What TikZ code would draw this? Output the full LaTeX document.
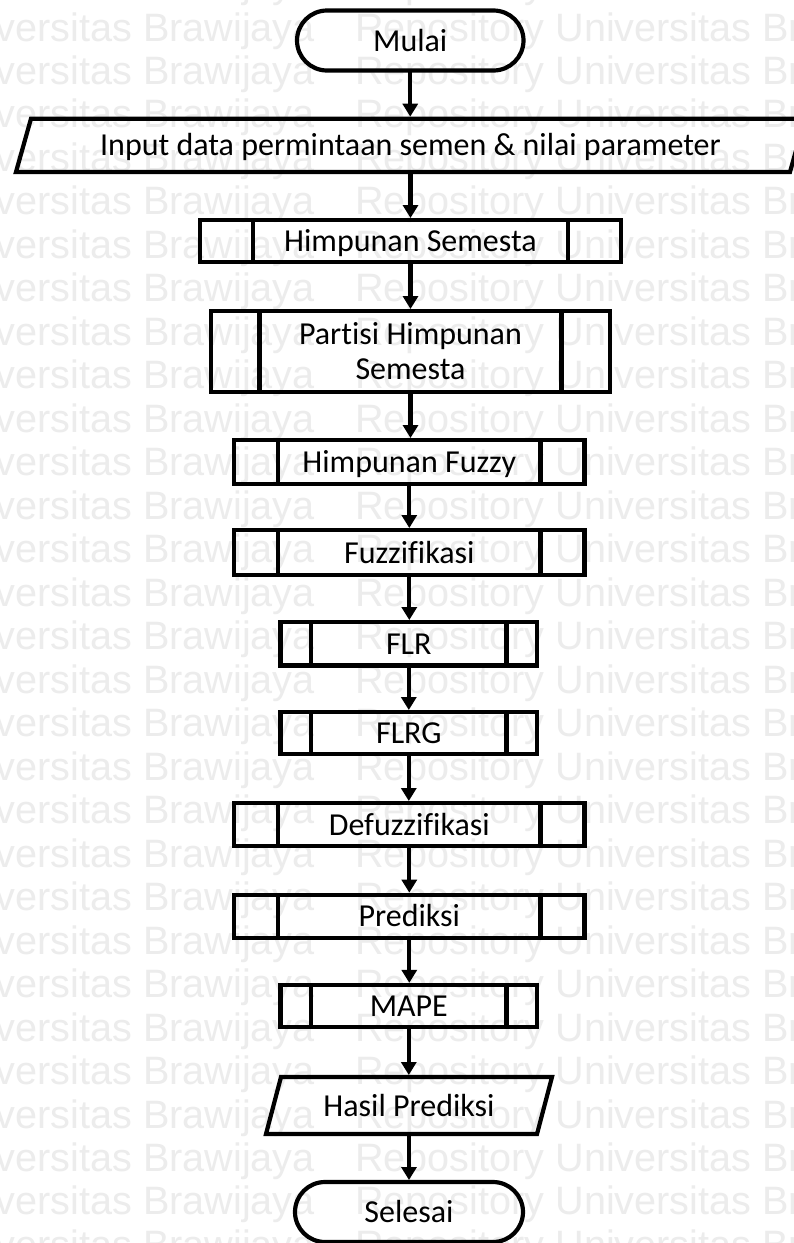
\documentclass[tikz,border=0pt]{standalone}
\usepackage{fontspec}
\setmainfont{Carlito}[Ligatures=NoCommon]
\newfontfamily\wmfont{Liberation Sans}
\usetikzlibrary{arrows.meta,calc}
\definecolor{wmgray}{RGB}{236,236,236}

\tikzset{
  flowtext/.style={inner sep=0pt, outer sep=0pt, align=center,
    font=\fontsize{32}{35}\selectfont, text height=21pt, text depth=0pt},
  box/.style={flowtext, draw=black, line width=4.2pt},
  term/.style={box, rounded corners=30pt, minimum height=60pt},
  arr/.style={line width=4.2pt, -{Triangle[width=15pt,length=13pt]}, shorten >=2pt},
  wm/.style={anchor=base west, inner sep=0pt, text=wmgray,
    font=\wmfont\fontsize{39.6}{44}\selectfont},
  edge/.style={line width=4.2pt, line join=miter},
}

% predefined-process side bars
\newcommand\subproc[2]{%
  \draw[edge] ($(#1.north west)+(#2,0)$) -- ($(#1.south west)+(#2,0)$);
  \draw[edge] ($(#1.north east)+(-#2,0)$) -- ($(#1.south east)+(-#2,0)$);}
% input/output parallelogram around a text node
\newcommand\slantbox[2]{%
  \draw[edge] ($(#1.south west)+(-#2,0)$) -- ($(#1.north west)+(#2,0)$)
    -- ($(#1.north east)+(#2,0)$) -- ($(#1.south east)+(-#2,0)$) -- cycle;}

\begin{document}
\begin{tikzpicture}[x=1pt,y=-1pt]
\useasboundingbox (0,0) rectangle (793,1243);
\fill[white] (0,0) rectangle (793,1243);

% repository watermark rows
\foreach \k in {-1,...,28}{
  \node[wm] (wmL\k) at ({-4.4},{41+43.48*\k}) {versitas Brawijaya};
  \node[wm] (wmR\k) at ({355},{41+43.48*\k}) {Repository Universitas Bra};
}

% flowchart nodes
\node[term, minimum width=226.5pt] (mulai) at (410.25,40.5) {Mulai};
\node[flowtext, minimum width=774pt, minimum height=53.3pt] (input) at (410.5,145.3)
  {Input data permintaan semen \& nilai parameter};
\slantbox{input}{7.5}
\node[box, minimum width=421pt, minimum height=42pt] (hs) at (410.5,241) {Himpunan Semesta};
\subproc{hs}{53}
\node[box, minimum width=399pt, minimum height=81pt, text height=, text depth=]
  (phs) at (410.5,351.5) {Partisi Himpunan\\Semesta};
\subproc{phs}{48.5}
\node[box, minimum width=350.5pt, minimum height=44pt] (hf) at (409.3,462) {Himpunan Fuzzy};
\subproc{hf}{44}
\node[box, minimum width=350.5pt, minimum height=45pt] (fz) at (409.3,552.5) {Fuzzifikasi};
\subproc{fz}{44}
\node[box, minimum width=256.5pt, minimum height=43.5pt] (flr) at (408.8,643.8) {FLR};
\subproc{flr}{30.5}
\node[box, minimum width=256.5pt, minimum height=42pt] (flrg) at (408.8,733) {FLRG};
\subproc{flrg}{30.5}
\node[box, minimum width=350.5pt, minimum height=43pt] (dfz) at (409.3,824.5) {Defuzzifikasi};
\subproc{dfz}{44}
\node[box, minimum width=350.5pt, minimum height=43.3pt] (pred) at (409.3,916.3) {Prediksi};
\subproc{pred}{44}
\node[box, minimum width=256.5pt, minimum height=42.3pt] (mape) at (408.8,1006) {MAPE};
\subproc{mape}{30.5}
\node[flowtext, minimum width=271pt, minimum height=57pt] (hasil) at (409,1105.5) {Hasil Prediksi};
\slantbox{hasil}{7.5}
\node[term, minimum width=228pt] (selesai) at (409,1212) {Selesai};

% connectors
\draw[arr] (mulai.south) -- (mulai.south |- input.north);
\draw[arr] (input.south) -- (input.south |- hs.north);
\draw[arr] (hs.south) -- (hs.south |- phs.north);
\draw[arr] (phs.south) -- (phs.south |- hf.north);
\draw[arr] (hf.south) -- (hf.south |- fz.north);
\draw[arr] (fz.south) -- (fz.south |- flr.north);
\draw[arr] (flr.south) -- (flr.south |- flrg.north);
\draw[arr] (flrg.south) -- (flrg.south |- dfz.north);
\draw[arr] (dfz.south) -- (dfz.south |- pred.north);
\draw[arr] (pred.south) -- (pred.south |- mape.north);
\draw[arr] (mape.south) -- (mape.south |- hasil.north);
\draw[arr] (hasil.south) -- (hasil.south |- selesai.north);
\end{tikzpicture}
\end{document}
